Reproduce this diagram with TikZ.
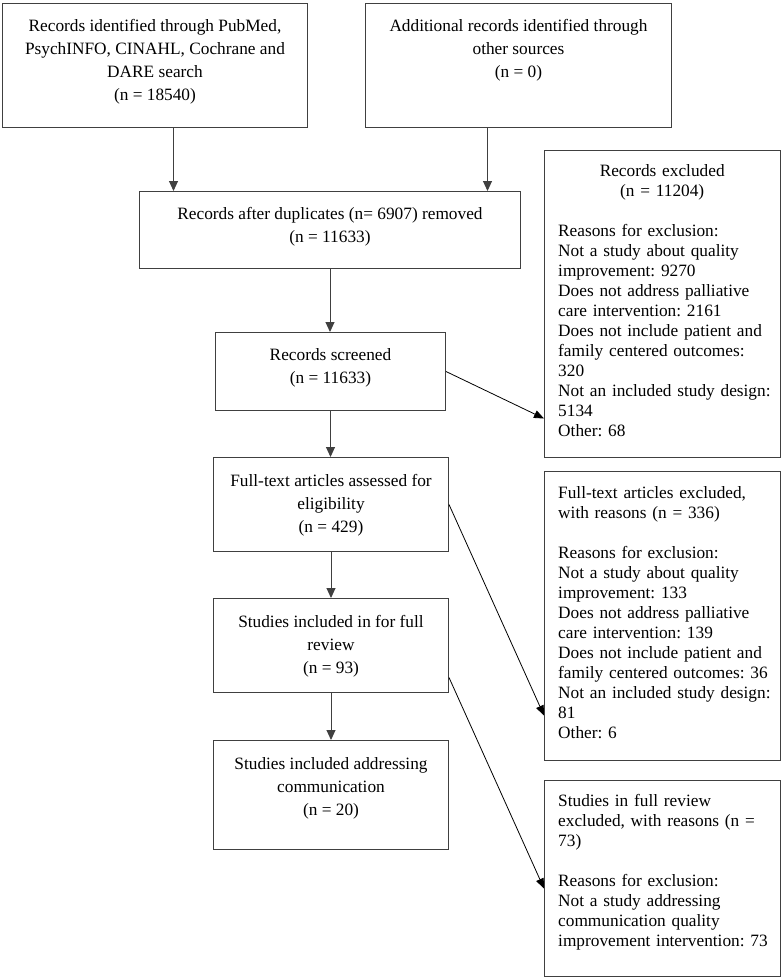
\documentclass[tikz,border=0pt]{standalone}
\usepackage{fontspec}
\setmainfont{Liberation Serif}
\usetikzlibrary{arrows.meta}
\frenchspacing
\tikzset{
  flowbox/.style = {draw=black!75, line width=1pt, inner sep=0pt, anchor=north west},
  box_txt/.style = {anchor=north, inner sep=0pt, align=center, font=\fontsize{17.3}{23}\selectfont},
  side_txt/.style = {anchor=north west, inner sep=0pt, align=left, text width=216pt, font=\fontsize{17.3}{20}\selectfont},
  down_arr/.style = {draw=black!75, line width=1pt, -{Triangle[length=10pt,width=9pt]}},
  side_arr/.style = {draw=black, line width=0.8pt, -{Triangle[length=10pt,width=8pt]}},
}
\newcommand{\midline}[1]{\makebox[208pt]{#1}}

\begin{document}
\begin{tikzpicture}[x=1pt, y=-1pt]
  \useasboundingbox (0,0) rectangle (782,977);

  % identification
  \node [flowbox, minimum width=305pt, minimum height=124pt] (ident) at (2,3) {};
  \node [flowbox, minimum width=306pt, minimum height=124pt] (other) at (365,3) {};
  \node [box_txt] (ident_t) at ([yshift=-16pt]ident.north)
    {Records identified through PubMed,\\PsychINFO, CINAHL, Cochrane and\\DARE search\\(n = 18540)};
  \node [box_txt] (other_t) at ([yshift=-16pt]other.north)
    {Additional records identified through\\other sources\\(n = 0)};

  % main column
  \node [flowbox, minimum width=381pt, minimum height=77pt] (dupl) at (139,191) {};
  \node [flowbox, minimum width=230pt, minimum height=78pt] (screen) at (215,332) {};
  \node [flowbox, minimum width=235pt, minimum height=94pt] (fulltext) at (213,457) {};
  \node [flowbox, minimum width=235pt, minimum height=94pt] (review) at (213,598) {};
  \node [flowbox, minimum width=235pt, minimum height=109pt] (comm) at (213,740) {};
  \node [box_txt] (dupl_t) at ([yshift=-16pt]dupl.north)
    {Records after duplicates (n= 6907) removed\\(n = 11633)};
  \node [box_txt] (screen_t) at ([yshift=-16pt]screen.north)
    {Records screened\\(n = 11633)};
  \node [box_txt] (fulltext_t) at ([yshift=-17pt]fulltext.north)
    {Full-text articles assessed for\\eligibility\\(n = 429)};
  \node [box_txt] (review_t) at ([yshift=-17pt]review.north)
    {Studies included in for full\\review\\(n = 93)};
  \node [box_txt] (comm_t) at ([yshift=-17pt]comm.north)
    {Studies included addressing\\communication\\(n = 20)};

  % exclusions
  \node [flowbox, minimum width=236pt, minimum height=307pt] (excl1) at (544,150) {};
  \node [flowbox, minimum width=236pt, minimum height=289pt] (excl2) at (544,471) {};
  \node [flowbox, minimum width=236pt, minimum height=196pt] (excl3) at (544,780) {};
  \node [side_txt] (excl1_t) at ([xshift=14pt,yshift=-14pt]excl1.north west)
    {\midline{Records excluded}\\\midline{(n = 11204)}\\[20pt]
     Reasons for exclusion:\\Not a study about quality\\improvement: 9270\\
     Does not address palliative\\care intervention: 2161\\
     Does not include patient and\\family centered outcomes:\\320\\
     Not an included study design:\\5134\\Other: 68};
  \node [side_txt] (excl2_t) at ([xshift=14pt,yshift=-15pt]excl2.north west)
    {Full-text articles excluded,\\with reasons (n = 336)\\[20pt]
     Reasons for exclusion:\\Not a study about quality\\improvement: 133\\
     Does not address palliative\\care intervention: 139\\
     Does not include patient and\\family centered outcomes: 36\\
     Not an included study design:\\81\\Other: 6};
  \node [side_txt] (excl3_t) at ([xshift=14pt,yshift=-14pt]excl3.north west)
    {Studies in full review\\excluded, with reasons (n =\\73)\\[20pt]
     Reasons for exclusion:\\Not a study addressing\\communication quality\\improvement intervention: 73};

  % arrows
  \draw [down_arr] ([xshift=18.5pt]ident.south) -- ([xshift=18.5pt]ident.south |- dupl.north);
  \draw [down_arr] ([xshift=-31pt]other.south) -- ([xshift=-31pt]other.south |- dupl.north);
  \draw [down_arr] (dupl.south) -- (dupl.south |- screen.north);
  \draw [down_arr] (screen.south) -- (screen.south |- fulltext.north);
  \draw [down_arr] (fulltext.south) -- (fulltext.south |- review.north);
  \draw [down_arr] (review.south) -- (review.south |- comm.north);
  \draw [side_arr] (screen.east) -- ([yshift=-114.5pt]excl1.west);
  \draw [side_arr] (fulltext.east) -- ([yshift=-99.5pt]excl2.west);
  \draw [side_arr] ([yshift=-32pt]review.east) -- ([yshift=-10pt]excl3.west);
\end{tikzpicture}
\end{document}
